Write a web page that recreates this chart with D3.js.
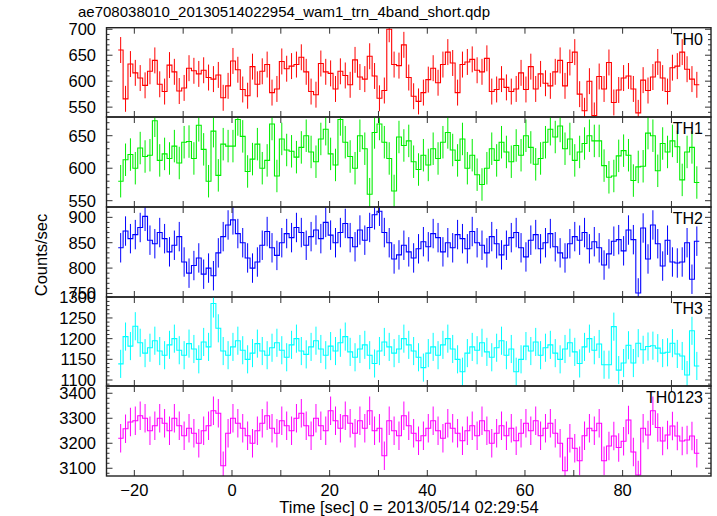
<!DOCTYPE html>
<html><head><meta charset="utf-8">
<script src="https://cdn.jsdelivr.net/npm/d3@7"></script>
<style>
body{margin:0;background:#fff}
text{font-family:"Liberation Sans",Arial,Helvetica,sans-serif;fill:#000}
</style>
</head><body>
<svg id="c" width="717" height="516"></svg>
<script>
const titleText = "ae708038010_20130514022954_wam1_trn_4band_short.qdp";
const xLabel = "Time [sec] 0 = 2013/05/14 02:29:54";
const yLabel = "Counts/sec";
const firstBinCenter = -22.8;
const binWidth = 1.0;
const xTicksMajor = [-20,0,20,40,60,80];
const xTicksAll = [-20,-10,0,10,20,30,40,50,60,70,80,90];

const th0 = [660,566,633,616,606,592,619,640,594,580,631,618,581,587,625,620,614,621,607,604,612,568,591,639,622,584,572,628,594,619,632,578,585,638,624,629,632,
646,618,580,574,634,618,615,585,619,611,593,641,608,604,648,610,567,582,700,632,630,670,607,571,561,578,603,625,597,632,656,635,578,632,637,642,621,618,644,580,584,
604,588,580,585,616,584,628,585,614,596,591,618,640,591,636,656,575,543,600,534,609,585,636,559,583,606,610,585,539,602,582,608,637,606,580,626,629,656,623,604,593];
const th1 = [580,613,621,600,631,618,620,673,612,622,615,634,608,640,641,615,666,629,580,657,589,637,634,634,675,649,595,614,637,600,612,668,588,645,628,626,617,
632,650,625,610,645,660,622,605,675,640,618,600,650,630,560,655,668,640,615,565,648,635,642,610,598,620,605,630,615,640,655,628,612,645,600,620,590,575,600,630,612,640,625,610,635,620,650,632,606,615,640,660,648,665,630,645,612,625,638,650,642,
642,604,586,588,619,627,620,581,602,603,654,650,596,638,625,642,633,582,625,632,578];
const th2 = [840,873,858,866,880,902,855,848,870,858,832,845,862,812,790,805,820,788,800,785,830,862,885,895,868,850,820,800,812,845,872,840,825,850,868,860,880,870,845,862,875,858,890,865,850,870,888,860,842,875,855,880,905,912,870,850,818,826,845,832,820,838,852,842,868,860,832,850,840,866,858,838,872,850,845,830,862,848,826,845,860,870,840,822,855,866,838,850,868,842,830,820,848,862,855,870,838,852,
840,806,828,853,856,834,875,856,751,879,818,885,848,804,855,812,810,812,850,778,853];
const th3 = [1139,1205,1182,1230,1190,1165,1178,1195,1170,1160,1185,1200,1172,1160,1188,1175,1150,1192,1180,1285,1225,1170,1160,1180,1195,1172,1150,1165,1188,1170,1160,1178,1190,1172,1155,1185,1200,1170,1162,1180,1195,1175,1160,1182,1170,1190,1205,1168,1155,1175,1185,1160,1140,1170,1192,1180,1165,1175,1200,1185,1170,1155,1130,1165,1180,1160,1185,1200,1175,1150,1120,1165,1180,1172,1190,1168,1155,1178,1195,1160,1175,1120,1150,1182,1170,1192,1160,1178,1185,1165,1150,1175,1190,1168,1140,1180,1200,1172,
1187,1137,1137,1229,1124,1141,1184,1141,1189,1173,1181,1183,1177,1165,1167,1189,1163,1158,1112,1219,1134];
const th0123 = [3220,3258,3285,3290,3310,3300,3250,3270,3300,3280,3250,3300,3270,3230,3260,3240,3200,3250,3270,3330,3320,3110,3240,3300,3280,3260,3230,3200,3250,3280,3310,3260,3240,3290,3270,3250,3300,3320,3270,3230,3300,3270,3250,3330,3290,3260,3310,3280,3240,3290,3260,3330,3250,3260,3150,3290,3250,3230,3310,3270,3240,3210,3230,3260,3290,3250,3220,3280,3260,3240,3210,3250,3270,3230,3290,3250,3200,3240,3270,3230,3260,3210,3240,3280,3250,3290,3230,3260,3280,3240,3200,3090,3220,3180,3130,3230,3260,3250,
3280,3130,3189,3229,3183,3208,3293,3165,3073,3260,3233,3330,3263,3209,3233,3269,3229,3209,3213,3229,3160];

const panelNames = ["TH0","TH1","TH2","TH3","TH0123"];
const panelColors = ["#ff0000","#00ee00","#0000ff","#00ffff","#ff00ff"];
const panelErrors = [25,25,29,34,57];
const yDomains = [[531,703],[540.3,678.8],[743,920.4],[1085.5,1300.7],[3069,3429]];
const yTickLabels = [[550,600,650,700],[550,600,650],[750,800,850,900],[1100,1150,1200,1250,1300],[3100,3200,3300,3400]];
const yMinorSteps = [10,10,10,10,20];
const series = [th0, th1, th2, th3, th0123];

const svg = d3.select("#c");
const L = 106.5, R = 711;
const panelEdges = [27.7,117,207,297,386,476];

const x = d3.scaleLinear().domain([-25.7, 98.1]).range([L, R]);
const defs = svg.append("defs");

series.forEach((vals, p) => {
  const y0 = panelEdges[p], y1 = panelEdges[p+1];
  const y = d3.scaleLinear().domain(yDomains[p]).range([y1, y0]);
  const g = svg.append("g");
  const cid = "clip" + p;
  defs.append("clipPath").attr("id", cid).append("rect")
    .attr("x", L).attr("y", y0).attr("width", R - L).attr("height", y1 - y0);
  const data = vals.map((v, i) => ({t: firstBinCenter + i * binWidth, v}));
  const dg = g.append("g").attr("clip-path", `url(#${cid})`);
  const err = panelErrors[p];
  dg.selectAll("line.eb").data(data).enter().append("line")
    .attr("x1", d => x(d.t)).attr("x2", d => x(d.t))
    .attr("y1", d => y(d.v - err)).attr("y2", d => y(d.v + err))
    .attr("stroke", panelColors[p]).attr("stroke-width", 1);
  const pts = [];
  data.forEach(d => { pts.push([d.t - binWidth/2, d.v]); pts.push([d.t + binWidth/2, d.v]); });
  dg.append("path").datum(pts)
    .attr("d", d3.line().x(d => x(d[0])).y(d => y(d[1])))
    .attr("fill", "none").attr("stroke", panelColors[p]).attr("stroke-width", 1.1);

  const [dmin, dmax] = yDomains[p];
  const ms = yMinorSteps[p];
  const minor = d3.range(Math.ceil(dmin / ms) * ms, dmax, ms);
  const majorStep = ms * 5;
  minor.forEach(v => {
    const isMajor = Math.abs(v % majorStep) < 1e-6;
    const len = isMajor ? 6 : 3;
    g.append("line").attr("x1", L).attr("x2", L + len).attr("y1", y(v)).attr("y2", y(v)).attr("stroke", "#333").attr("stroke-width", 1);
    g.append("line").attr("x1", R).attr("x2", R - len).attr("y1", y(v)).attr("y2", y(v)).attr("stroke", "#333").attr("stroke-width", 1);
  });
  g.selectAll("text.yl").data(yTickLabels[p]).enter().append("text")
    .attr("x", 96).attr("y", d => y(d)).attr("dy", "0.36em")
    .attr("text-anchor", "end").attr("font-size", 16.5).text(d => d);
  xTicksAll.forEach(v => {
    g.append("line").attr("x1", x(v)).attr("x2", x(v)).attr("y1", y0).attr("y2", y0 + 6).attr("stroke", "#333").attr("stroke-width", 1);
    g.append("line").attr("x1", x(v)).attr("x2", x(v)).attr("y1", y1).attr("y2", y1 - 6).attr("stroke", "#333").attr("stroke-width", 1);
  });
  g.append("rect").attr("x", L).attr("y", y0).attr("width", R - L).attr("height", y1 - y0)
    .attr("fill", "none").attr("stroke", "#222").attr("stroke-width", 1.4);
  g.append("text").attr("x", 703).attr("y", y0 + 17).attr("text-anchor", "end")
    .attr("font-size", 16).text(panelNames[p]);
});

svg.append("g").selectAll("text").data(xTicksMajor).enter().append("text")
  .attr("x", d => x(d)).attr("y", 496).attr("text-anchor", "middle").attr("font-size", 16.5)
  .text(d => d < 0 ? "\u2212" + Math.abs(d) : d);
svg.append("text").attr("x", 409).attr("y", 513).attr("text-anchor", "middle").attr("font-size", 16.5).text(xLabel);
svg.append("text").attr("transform", "translate(47,255) rotate(-90)").attr("text-anchor", "middle").attr("font-size", 16.5).text(yLabel);
svg.append("text").attr("x", 78).attr("y", 17).attr("font-size", 15).text(titleText);
</script>
</body></html>
